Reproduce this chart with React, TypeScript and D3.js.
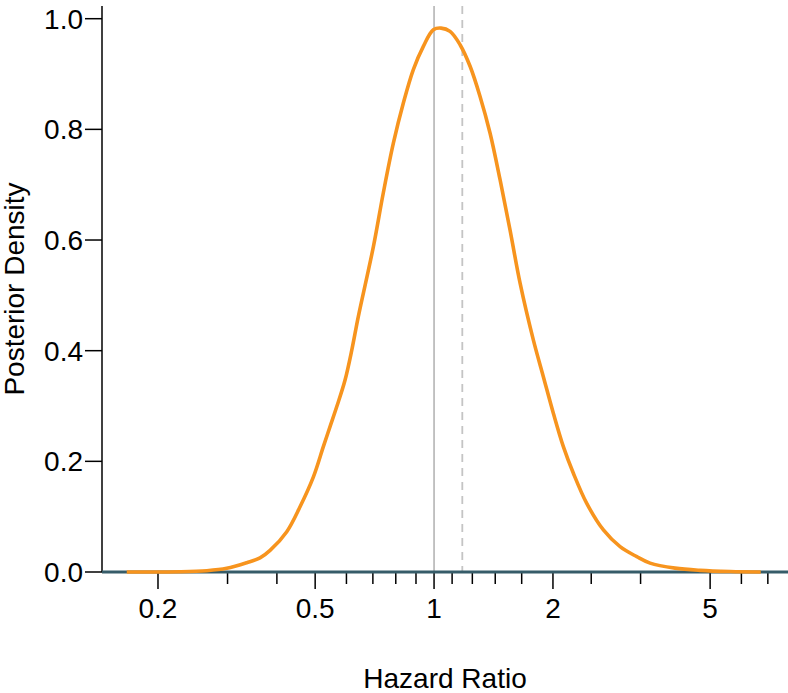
import React from "react";
import * as d3 from "d3";

const hazardRatio = [
  0.1667, 0.2275, 0.2659, 0.2986, 0.3355, 0.3626, 0.3844, 0.4237, 0.4578, 0.4949,
  0.5244, 0.5453, 0.5672, 0.5952, 0.619, 0.6432, 0.7021, 0.7438, 0.7888, 0.8361,
  0.8862, 0.9395, 0.9959, 1.0416, 1.0977, 1.1636, 1.2337, 1.3075, 1.3863, 1.4694,
  1.5575, 1.6513, 1.7838, 1.891, 2.0045, 2.1251, 2.2528, 2.4355, 2.6837, 2.958,
  3.2607, 3.523, 4.075, 4.714, 5.616, 6.716,
];
const density = [
  0.0, 0.0005, 0.0024, 0.0067, 0.0168, 0.0255, 0.039, 0.0729, 0.118, 0.172,
  0.2266, 0.2627, 0.299, 0.347, 0.401, 0.462, 0.588, 0.685, 0.775, 0.8475,
  0.908, 0.95, 0.98, 0.983, 0.977, 0.953, 0.914, 0.8595, 0.793, 0.709,
  0.618, 0.522, 0.4195, 0.353, 0.287, 0.2266, 0.1785, 0.124, 0.076, 0.0458,
  0.0277, 0.016, 0.007, 0.003, 0.0008, 0.0,
];
const majorTicks = [0.2, 0.5, 1, 2, 5];
const majorLabels = ["0.2", "0.5", "1", "2", "5"];
const minorTicks = [0.3, 0.4, 0.6, 0.7, 0.8, 0.9, 1.111, 1.25, 1.4286, 1.6667, 2.5, 3.3333, 6, 7];
const yTicks = [0, 0.2, 0.4, 0.6, 0.8, 1.0];
const referenceHR = 1;
const estimateHR = 1.179;

const W = 788;
const H = 693;
const left = 102;
const right = 788;
const top = 6;
const bottom = 572;
const FONT = "'Liberation Sans', Arial, Helvetica, sans-serif";
const FS = 28;

export default function App() {
  const x = d3.scaleLog().domain([0.1443, 7.873]).range([left, right]);
  const y = d3.scaleLinear().domain([0, 1]).range([572, 18.7]);
  const pts: [number, number][] = hazardRatio.map((h, i) => [h, density[i]]);
  const line = d3
    .line<[number, number]>()
    .x((d) => x(d[0]))
    .y((d) => y(d[1]))
    .curve(d3.curveCatmullRom.alpha(0.5));

  return (
    <svg
      width={W}
      height={H}
      style={{ position: "absolute", left: 0, top: 0, background: "#fff" }}
      fontFamily={FONT}
    >
      {/* reference lines */}
      <line x1={x(referenceHR)} x2={x(referenceHR)} y1={top} y2={bottom} stroke="#bdbdbd" strokeWidth={1.8} />
      <line
        x1={x(estimateHR)}
        x2={x(estimateHR)}
        y1={top}
        y2={bottom}
        stroke="#c4c4c4"
        strokeWidth={1.8}
        strokeDasharray="8,6"
      />
      {/* x minor ticks */}
      {minorTicks.map((t) => (
        <line key={"mi" + t} x1={x(t)} x2={x(t)} y1={bottom} y2={bottom + 12} stroke="#000" strokeWidth={1.5} />
      ))}
      {majorTicks.map((t, i) => (
        <g key={"ma" + t}>
          <line x1={x(t)} x2={x(t)} y1={bottom} y2={bottom + 17} stroke="#000" strokeWidth={1.5} />
          <text x={x(t)} y={618} textAnchor="middle" fontSize={FS} fill="#000">
            {majorLabels[i]}
          </text>
        </g>
      ))}
      {/* y axis */}
      <line x1={left} x2={left} y1={top} y2={bottom} stroke="#000" strokeWidth={1.5} />
      {yTicks.map((t) => (
        <g key={"y" + t}>
          <line x1={left - 17} x2={left} y1={y(t)} y2={y(t)} stroke="#000" strokeWidth={1.5} />
          <text x={left - 19} y={y(t)} dy="0.36em" textAnchor="end" fontSize={FS} fill="#000">
            {t.toFixed(1)}
          </text>
        </g>
      ))}
      {/* baseline */}
      <line x1={left} x2={right} y1={y(0)} y2={y(0)} stroke="#365c69" strokeWidth={3.2} />
      {/* density curve */}
      <path d={line(pts) || ""} fill="none" stroke="#f7941e" strokeWidth={3.6} strokeLinejoin="round" strokeLinecap="butt" />
      {/* axis titles */}
      <text x={(left + right) / 2} y={688} textAnchor="middle" fontSize={FS} fill="#000">
        Hazard Ratio
      </text>
      <text
        transform={`translate(${24},${289}) rotate(-90)`}
        textAnchor="middle"
        fontSize={FS}
        fill="#000"
      >
        Posterior Density
      </text>
    </svg>
  );
}
